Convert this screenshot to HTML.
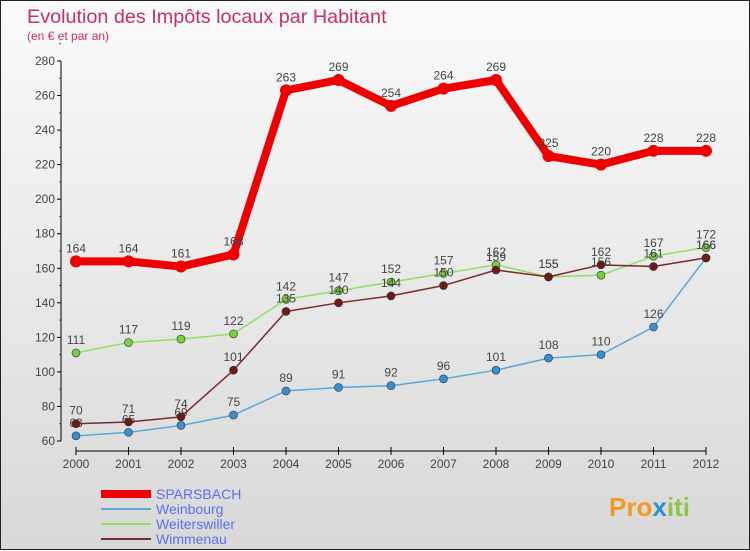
<!DOCTYPE html>
<html><head><meta charset="utf-8"><style>
body{margin:0}
#c{width:748px;height:548px;border:1px solid #222;background:linear-gradient(#fafafa,#d8d8d8);position:relative;font-family:"Liberation Sans",sans-serif}
svg{position:absolute;left:0;top:0}
</style></head><body>
<div id="c">
<svg id="s" width="750" height="550">
<text x="26" y="22" font-size="19.8" fill="#c8305e">Evolution des Impôts locaux par Habitant</text>
<text x="26" y="39" font-size="12" fill="#c8305e">(en € et par an)</text>
<text x="608" y="515" font-size="26" font-weight="bold" fill="#f39a1e">Pro<tspan fill="#2a8fd8">x</tspan><tspan fill="#8ec63f">iti</tspan></text>
</svg>
</div>
<script>
const years=[2000,2001,2002,2003,2004,2005,2006,2007,2008,2009,2010,2011,2012];
const yTicks=[60,80,100,120,140,160,180,200,220,240,260,280];
const sparsbach=[164,164,161,168,263,269,254,264,269,225,220,228,228];
const weinbourg=[63,65,69,75,89,91,92,96,101,108,110,126,166];
const weiterswiller=[111,117,119,122,142,147,152,157,162,155,156,167,172];
const wimmenau=[70,71,74,101,135,140,144,150,159,155,162,161,166];
const names=["SPARSBACH","Weinbourg","Weiterswiller","Wimmenau"];
const NS="http://www.w3.org/2000/svg";
const s=document.getElementById('s');
const X=i=>75+i*52.5;
const Y=v=>440-(v-60)*380/220;
function mk(t,a,p){const e=document.createElementNS(NS,t);for(const k in a)e.setAttribute(k,a[k]);(p||s).appendChild(e);return e;}
const ax=mk('g',{});


const ya=mk('line',{x1:60,y1:60,x2:60,y2:440,stroke:'#000'},ax);


yTicks.forEach(v=>{
 mk('line',{x1:56,y1:Y(v),x2:60,y2:Y(v),stroke:'#000'},ax);
 mk('line',{x1:58,y1:Y(v+10),x2:60,y2:Y(v+10),stroke:'#e00'},ax);
 const t=mk('text',{x:54,y:Y(v)+4,'font-size':12,fill:'#444','text-anchor':'end'},ax);
 t.textContent=v;
 
 
});
const xa=mk('line',{x1:75,y1:450,x2:705,y2:450,stroke:'#000'},ax);


years.forEach((y,i)=>{
 mk('line',{x1:X(i),y1:446,x2:X(i),y2:454,stroke:'#000'},ax);
 const t=mk('text',{x:X(i),y:467,'font-size':12,fill:'#444','text-anchor':'middle'},ax);
 t.textContent=y;
 
 
});
function series(d,col,w,r,dot,name){
 const g=mk('g',{});
 
 
 const l=mk('polyline',{points:d.map((v,i)=>X(i)+','+Y(v)).join(' '),fill:'none',stroke:col,'stroke-width':w,'stroke-linejoin':'round'},g);
 
 
 d.forEach((v,i)=>{
  const c=mk('circle',{cx:X(i),cy:Y(v),r:r,fill:dot,stroke:'#333','stroke-width':w>3?0:0.6},g);
  
  
  const t=mk('text',{x:X(i),y:Y(v)-9,'font-size':12,fill:'#444','text-anchor':'middle'},g);
  t.textContent=v;
  
  
 });
}
series(weinbourg,'#5aa7d8',1.5,4,'#3a8fd0','weinbourg');
series(weiterswiller,'#8fe060',1.5,4,'#78d040','weiterswiller');
series(wimmenau,'#7a2a2a',1.5,4,'#6a1a1a','wimmenau');
series(sparsbach,'#ee0000',8,6,'#ee0000','sparsbach');
const cols=['#ee0000','#5aa7d8','#8fe060','#7a2a2a'],ws=[8,2,2,2];
names.forEach((n,i)=>{
 const y=493+i*15;
 const g=mk('g',{});
 
 
 mk('line',{x1:100,y1:y,x2:150,y2:y,stroke:cols[i],'stroke-width':ws[i]},g);
 const t=mk('text',{x:155,y:y+5,'font-size':14,fill:'#5a6ff0'},g);
 t.textContent=n;
});
</script>
</body></html>
